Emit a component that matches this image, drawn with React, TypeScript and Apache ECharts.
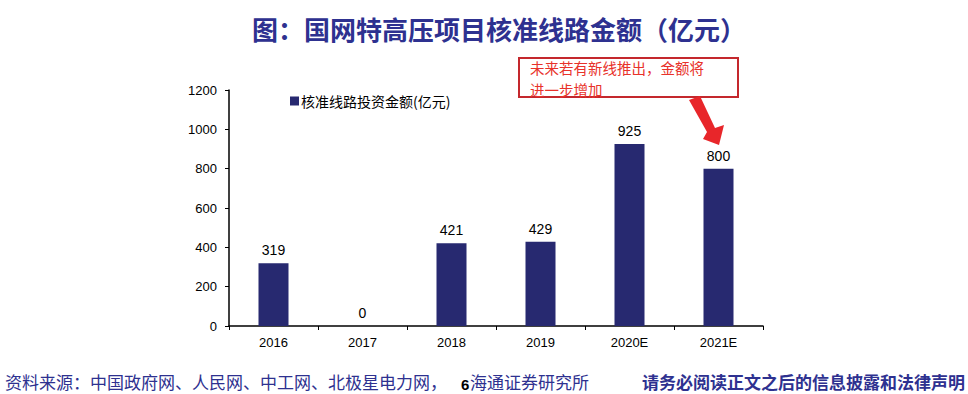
import React, { useEffect, useRef } from "react";
import * as echarts from "echarts";

const categories = ["2016", "2017", "2018", "2019", "2020E", "2021E"];
const values = [319, 0, 421, 429, 925, 800];
const seriesName = "核准线路投资金额(亿元)";
const titleText = "图：国网特高压项目核准线路金额（亿元）";
const noteLines = ["未来若有新线推出，金额将", "进一步增加"];
const sourceText1 = "资料来源：中国政府网、人民网、中工网、北极星电力网，";
const sourceText2 = "海通证券研究所";
const pageNo = "6";
const disclaimer = "请务必阅读正文之后的信息披露和法律声明";

export default function App() {
  const ref = useRef<HTMLDivElement>(null);
  useEffect(() => {
    const chart = echarts.init(ref.current!, null, { renderer: "svg" });
    const cjk = "'Noto Sans CJK SC', sans-serif";
    const num = "'Liberation Sans', Arial, sans-serif";
    chart.setOption({
      animation: false,
      backgroundColor: "#ffffff",
      grid: { left: 229, top: 90, width: 534, height: 236 },
      legend: {
        left: 285,
        top: 89,
        icon: "rect",
        itemWidth: 9,
        itemHeight: 9,
        itemGap: 4,
        textStyle: { fontFamily: cjk, fontSize: 14, color: "#000", padding: [0, 0, 0, -3] },
        data: [seriesName],
      },
      xAxis: {
        type: "category",
        data: categories,
        boundaryGap: true,
        axisLine: { lineStyle: { color: "#000", width: 1.5 } },
        axisTick: { show: true, inside: false, length: 4, lineStyle: { color: "#000" } },
        axisLabel: { color: "#000", fontFamily: num, fontSize: 13, margin: 10 },
      },
      yAxis: {
        type: "value",
        min: 0,
        max: 1200,
        interval: 200,
        splitLine: { show: false },
        axisLine: { show: true, lineStyle: { color: "#000", width: 1.5 } },
        axisTick: { show: true, length: 4, lineStyle: { color: "#000" } },
        axisLabel: {
          color: "#000",
          fontFamily: num,
          fontSize: 13,
          margin: 12,
          formatter: (v: number) => String(v),
        },
      },
      series: [
        {
          name: seriesName,
          type: "bar",
          data: values,
          barWidth: 30,
          itemStyle: { color: "#272970" },
          label: {
            show: true,
            position: "top",
            distance: 6,
            color: "#000",
            fontFamily: num,
            fontSize: 14,
          },
        },
      ],
      graphic: [
        {
          type: "text",
          x: 499,
          y: 28,
          style: {
            text: titleText,
            fontFamily: cjk,
            fontSize: 26,
            fontWeight: "bold",
            fill: "#2e3190",
            align: "center",
            verticalAlign: "middle",
          },
        },
        {
          type: "rect",
          shape: { x: 519, y: 58, width: 219, height: 39 },
          style: { fill: "#fff", stroke: "#c4282d", lineWidth: 2 },
        },
        {
          type: "text",
          x: 530,
          y: 78.5,
          style: {
            text: noteLines.join("\n"),
            fontFamily: cjk,
            fontSize: 14.5,
            lineHeight: 21.5,
            fill: "#e8322a",
            verticalAlign: "middle",
          },
        },
        {
          type: "polygon",
          shape: {
            points: [
              [689, 100],
              [700, 96],
              [715, 128],
              [724, 125],
              [719, 145],
              [703, 139],
              [707, 132],
            ],
          },
          style: { fill: "#e8262a" },
        },
        {
          type: "text",
          x: 5,
          y: 381,
          style: { text: sourceText1, fontFamily: cjk, fontSize: 17, fill: "#2e3190", verticalAlign: "middle" },
        },
        {
          type: "text",
          x: 470,
          y: 381,
          style: { text: sourceText2, fontFamily: cjk, fontSize: 17, fill: "#2e3190", verticalAlign: "middle" },
        },
        {
          type: "text",
          x: 461,
          y: 384,
          style: { text: pageNo, fontFamily: num, fontSize: 15, fontWeight: "bold", fill: "#000", verticalAlign: "middle" },
        },
        {
          type: "text",
          x: 965,
          y: 381,
          style: {
            text: disclaimer,
            fontFamily: cjk,
            fontSize: 17,
            lineHeight: 17,
            fontWeight: "bold",
            fill: "#2e3190",
            align: "right",
            verticalAlign: "middle",
          },
        },
      ],
    });
    return () => chart.dispose();
  }, []);
  return <div ref={ref} style={{ width: 968, height: 394, position: "absolute", left: 0, top: 0 }} />;
}
